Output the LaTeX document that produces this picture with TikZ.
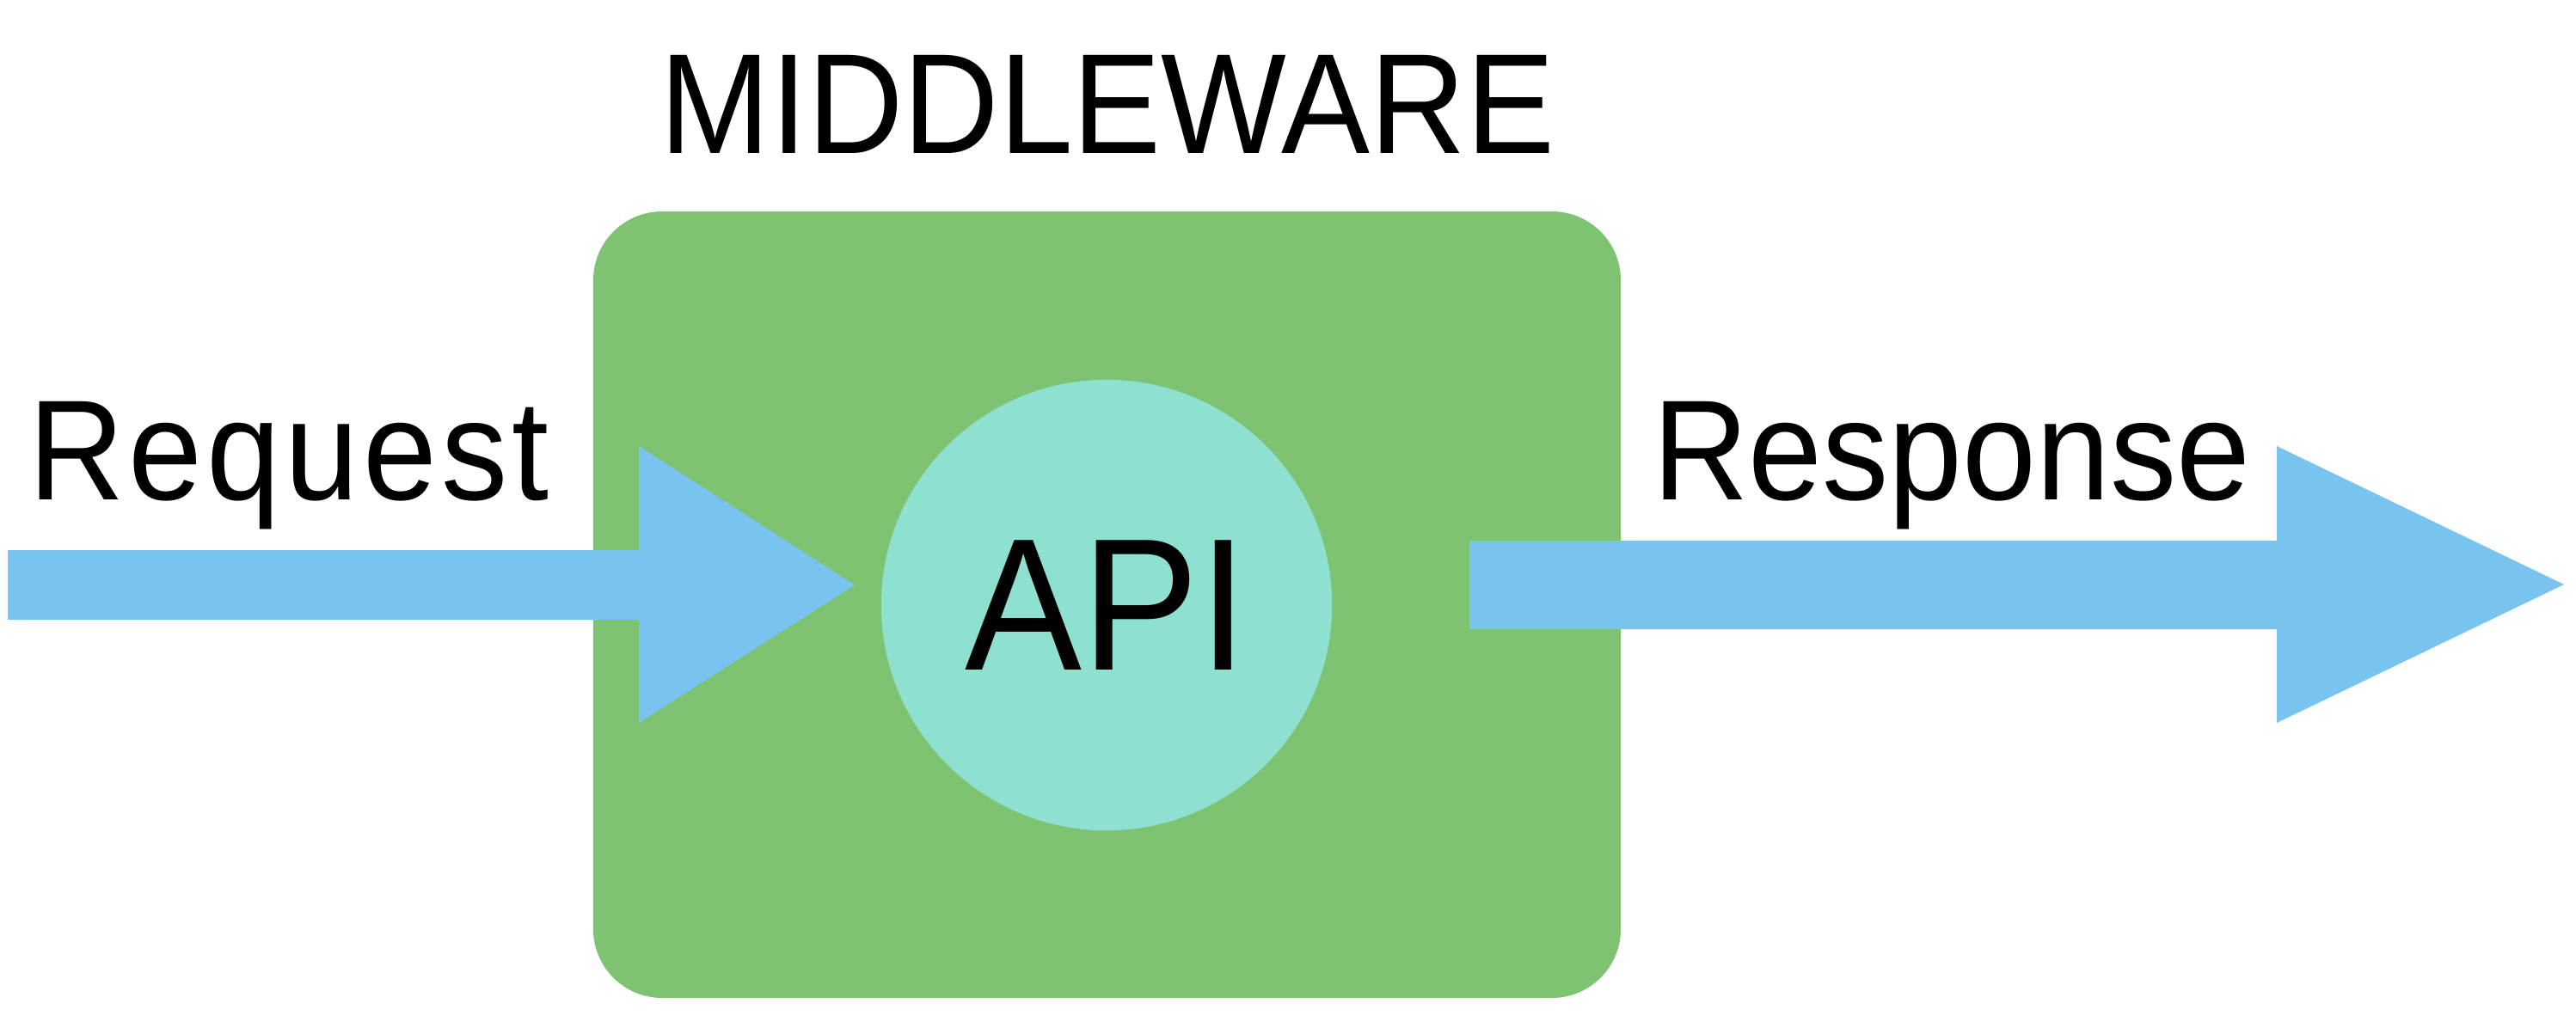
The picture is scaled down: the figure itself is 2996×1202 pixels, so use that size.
\documentclass[tikz,border=0pt]{standalone}
\usepackage{fontspec}
\setmainfont{Liberation Sans}[FakeStretch=0.93]
\newfontfamily\reqfont{Liberation Sans}[FakeStretch=0.93, LetterSpace=3.0]
\begin{document}
\begin{tikzpicture}[x=0.01cm,y=-0.01cm,
  label/.style={inner sep=0pt, anchor=base, font=\fontsize{47.2}{56}\selectfont},
  blockarrow/.style={fill=arrowblue}]
\definecolor{boxgreen}{HTML}{7DC372}
\definecolor{apicyan}{HTML}{8EE1D1}
\definecolor{arrowblue}{HTML}{78C3F0}
\useasboundingbox (0,0) rectangle (2996,1202);
% middleware box
\fill[boxgreen, rounded corners=0.8cm] (690,246) rectangle (1885,1161);
\coordinate (mwtop) at (1288,178);
\node[label] (mw) at (mwtop) {MIDDLEWARE};
% API circle
\node[circle, fill=apicyan, minimum size=5.24cm, inner sep=0pt,
      font=\fontsize{62.3}{70}\selectfont] (api) at (1287,704) {API};
% request arrow
\coordinate (reqtip) at (994,680.5);
\fill[blockarrow] (9,640) -- (743,640) -- (743,519) -- (reqtip) -- (743,841) -- (743,721) -- (9,721) -- cycle;
\node[label, font=\reqfont\fontsize{47.2}{56}\selectfont] (req) at (336,581) {Request};
% response arrow
\coordinate (restip) at (2982,680);
\fill[blockarrow] (1709,629) -- (2648,629) -- (2648,519) -- (restip) -- (2648,841) -- (2648,732) -- (1709,732) -- cycle;
\node[label] (res) at (2270,581) {Response};
\end{tikzpicture}
\end{document}
